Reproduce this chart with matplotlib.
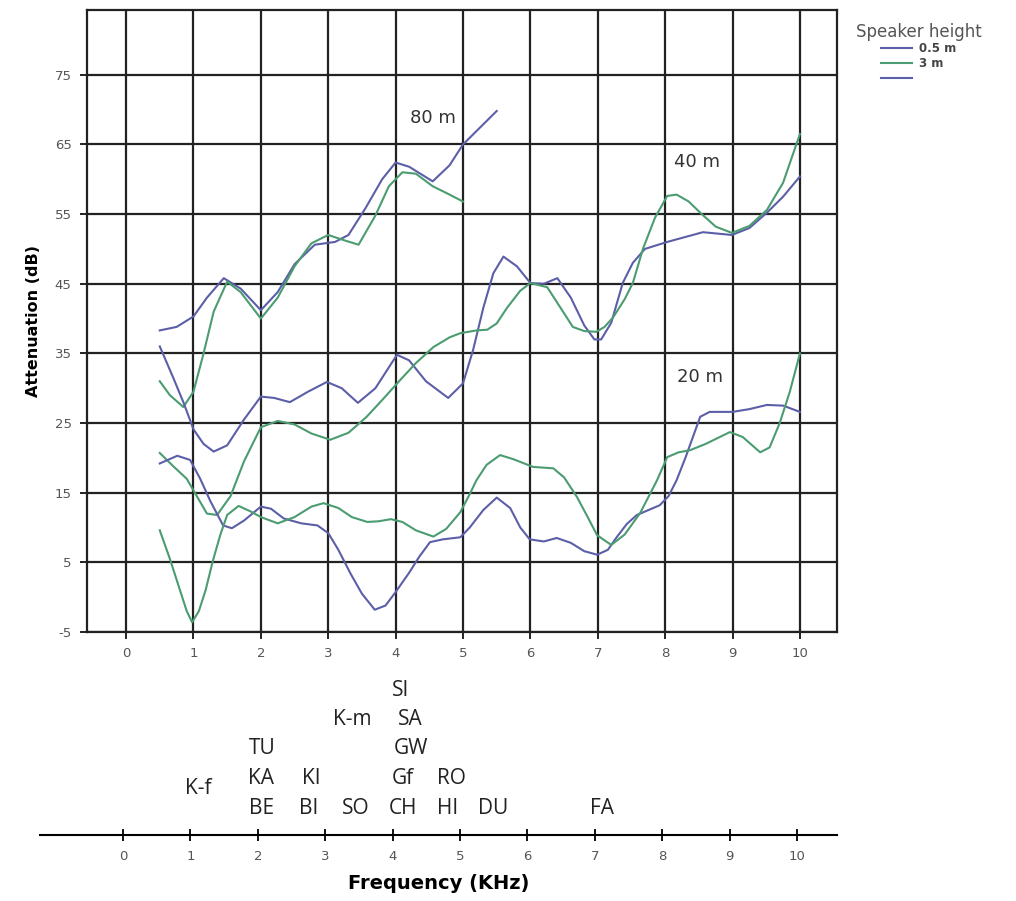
import matplotlib
matplotlib.use("Agg")
import matplotlib.pyplot as plt
from matplotlib.lines import Line2D

plt.rcParams["axes.unicode_minus"] = False

# frequency (kHz) / attenuation (dB)
blue_80_x = [0.5, 0.75, 1.0, 1.2, 1.45, 1.7, 2.0, 2.25, 2.5, 2.8, 3.1, 3.3, 3.55, 3.8, 4.0, 4.2, 4.55, 4.8, 5.0, 5.25, 5.5]
blue_80_y = [38.3, 38.8, 40.3, 43.0, 45.8, 44.3, 41.2, 43.8, 47.8, 50.6, 51.0, 52.0, 55.8, 60.0, 62.4, 61.8, 59.7, 62.0, 65.0, 67.4, 69.8]

green_80_x = [0.5, 0.65, 0.85, 1.0, 1.15, 1.3, 1.5, 1.7, 2.0, 2.25, 2.5, 2.75, 3.0, 3.25, 3.45, 3.7, 3.9, 4.1, 4.3, 4.55, 4.8, 5.0]
green_80_y = [31.0, 29.0, 27.3, 29.5, 35.0, 41.0, 45.3, 43.8, 40.0, 43.0, 47.5, 50.8, 52.0, 51.2, 50.6, 54.8, 59.0, 61.0, 60.8, 59.0, 57.8, 56.8]

blue_40_x = [0.5, 0.7, 0.85, 1.0, 1.15, 1.3, 1.5, 1.75, 2.0, 2.2, 2.43, 2.7, 2.98, 3.2, 3.44, 3.7, 4.02, 4.2,
             4.45, 4.78, 5.0, 5.15, 5.3, 5.45, 5.6, 5.8, 6.0, 6.2, 6.4, 6.6, 6.8, 6.95, 7.05, 7.2, 7.37, 7.52,
             7.7, 8.03, 8.56, 8.99, 9.25, 9.51, 9.75, 10.0]
blue_40_y = [36.0, 31.5, 28.0, 24.1, 22.0, 20.9, 21.8, 25.5, 28.8, 28.6, 28.0, 29.5, 30.9, 30.0, 27.9, 30.0, 34.8, 34.0,
             31.0, 28.6, 30.7, 35.5, 41.5, 46.5, 48.9, 47.5, 45.1, 45.0, 45.8, 43.0, 39.0, 37.0, 37.0, 39.4, 45.1, 48.0,
             50.0, 51.0, 52.4, 52.0, 53.0, 55.2, 57.5, 60.4]

green_40_x = [0.5, 0.7, 0.9, 1.05, 1.2, 1.35, 1.55, 1.75, 2.0, 2.25, 2.5, 2.75, 3.03, 3.3, 3.57, 3.8, 4.07, 4.3,
              4.56, 4.8, 4.96, 5.2, 5.36, 5.5, 5.65, 5.85, 6.0, 6.25, 6.45, 6.63, 6.8, 6.98, 7.1, 7.23, 7.4, 7.52,
              7.67, 7.85, 8.03, 8.17, 8.35, 8.52, 8.75, 8.99, 9.25, 9.51, 9.75, 10.0]
green_40_y = [20.7, 18.8, 17.0, 14.5, 12.0, 11.8, 14.5, 19.5, 24.4, 25.3, 24.8, 23.5, 22.6, 23.6, 25.9, 28.3, 31.2, 33.6,
              35.9, 37.3, 37.9, 38.3, 38.4, 39.3, 41.5, 44.0, 45.1, 44.5, 41.5, 38.8, 38.2, 38.1, 38.8, 40.2, 42.8, 45.1,
              50.0, 54.5, 57.6, 57.8, 56.8, 55.2, 53.2, 52.3, 53.3, 55.6, 59.5, 66.5]

blue_20_x = [0.5, 0.76, 0.95, 1.1, 1.25, 1.44, 1.57, 1.75, 2.0, 2.15, 2.34, 2.6, 2.84, 3.0, 3.15, 3.33, 3.5, 3.69,
             3.85, 3.99, 4.2, 4.35, 4.51, 4.7, 4.96, 5.1, 5.3, 5.5, 5.7, 5.85, 5.99, 6.2, 6.39, 6.6, 6.8, 6.99, 7.15,
             7.28, 7.43, 7.58, 7.75, 7.92, 8.05, 8.17, 8.3, 8.52, 8.66, 9.0, 9.25, 9.51, 9.75, 10.0]
blue_20_y = [19.2, 20.3, 19.7, 17.0, 13.8, 10.3, 9.9, 11.0, 13.0, 12.7, 11.3, 10.6, 10.3, 9.2, 6.8, 3.4, 0.5, -1.8,
             -1.2, 0.6, 3.5, 5.8, 7.9, 8.3, 8.6, 10.0, 12.5, 14.3, 12.8, 10.0, 8.3, 8.0, 8.5, 7.8, 6.6, 6.1, 6.8,
             8.6, 10.5, 11.8, 12.5, 13.2, 14.5, 16.8, 20.0, 25.9, 26.6, 26.6, 27.0, 27.6, 27.5, 26.6]

green_20_x = [0.5, 0.65, 0.8, 0.9, 0.98, 1.08, 1.18, 1.29, 1.4, 1.5, 1.67, 1.85, 2.0, 2.25, 2.5, 2.75, 2.93, 3.15,
              3.35, 3.58, 3.75, 3.93, 4.1, 4.3, 4.56, 4.75, 4.96, 5.1, 5.2, 5.35, 5.55, 5.75, 6.04, 6.34, 6.5, 6.69,
              6.85, 6.99, 7.2, 7.4, 7.63, 7.88, 8.03, 8.2, 8.37, 8.6, 8.96, 9.15, 9.41, 9.55, 9.7, 9.85, 10.0]
green_20_y = [9.6, 5.5, 1.0, -2.0, -3.6, -2.0, 1.0, 5.3, 9.0, 11.8, 13.1, 12.3, 11.5, 10.6, 11.5, 13.0, 13.5, 12.8,
              11.5, 10.8, 10.9, 11.2, 10.8, 9.6, 8.7, 9.8, 12.2, 14.8, 16.8, 19.0, 20.4, 19.8, 18.7, 18.5, 17.2, 14.4,
              11.5, 8.9, 7.5, 9.0, 12.1, 16.8, 20.1, 20.8, 21.1, 22.0, 23.7, 23.0, 20.8, 21.5, 25.0, 29.5, 35.0]

distance_labels = ["80 m", "40 m", "20 m"]
distance_label_x = [4.55, 8.47, 8.52]
distance_label_y = [68.8, 62.5, 31.6]

legend_labels = ["0.5 m", "3 m", ""]

# species codes and their song frequency (kHz), stacking level in the column
species = ["K-f", "BE", "KA", "TU", "BI", "KI", "SO", "K-m", "CH", "Gf", "GW", "SA", "SI", "HI", "RO", "DU", "FA"]
species_freq = [1.11, 2.05, 2.05, 2.06, 2.76, 2.79, 3.46, 3.40, 4.16, 4.15, 4.27, 4.26, 4.12, 4.81, 4.87, 5.49, 7.11]
species_level = [0.67, 0, 1, 2, 0, 1, 0, 3, 0, 1, 2, 3, 4, 0, 1, 0, 0]

blue = "#5c5fa8"
green = "#4b9c70"
tick_grey = "#555555"

fig = plt.figure(figsize=(10.16, 9.01), dpi=100)
W, H = 1016, 901

# main chart
ax = fig.add_axes([87 / W, 1 - 632 / H, (837 - 87) / W, (632 - 10) / H])
ax.set_xlim(-0.58, 10.55)
ax.set_ylim(-5, 84.3)
ax.set_xticks(range(0, 11))
ax.set_yticks([-5, 5, 15, 25, 35, 45, 55, 65, 75])
ax.grid(True, color="#222222", linewidth=1.6)
ax.set_axisbelow(True)
for s in ax.spines.values():
    s.set_linewidth(1.6)
    s.set_color("#222222")
ax.tick_params(direction="out", length=5, width=1.4, color="#222222",
               labelsize=9.5, labelcolor=tick_grey, pad=6)

lw = 1.5
ax.plot(blue_80_x, blue_80_y, color=blue, lw=lw)
ax.plot(green_80_x, green_80_y, color=green, lw=lw)
ax.plot(blue_40_x, blue_40_y, color=blue, lw=lw)
ax.plot(green_40_x, green_40_y, color=green, lw=lw)
ax.plot(blue_20_x, blue_20_y, color=blue, lw=lw)
ax.plot(green_20_x, green_20_y, color=green, lw=lw)

for lab, x, y in zip(distance_labels, distance_label_x, distance_label_y):
    ax.text(x, y, lab, ha="center", va="center", fontsize=13, color="#333333",
            bbox=dict(facecolor="white", edgecolor="none", pad=1))

ax.set_ylabel("Attenuation (dB)", fontsize=11.5, fontweight="bold", labelpad=10)

# legend
handles = [Line2D([], [], color=blue, lw=1.5), Line2D([], [], color=green, lw=1.5),
           Line2D([], [], color=blue, lw=1.5)]
leg = fig.legend(handles, legend_labels, title="Speaker height", loc="upper left",
                 bbox_to_anchor=(845 / W, 1 - 12 / H), frameon=False, fontsize=8.5,
                 title_fontsize=12, handlelength=2.6, labelspacing=0.15, handletextpad=0.6)
leg.get_title().set_color(tick_grey)
for t in leg.get_texts():
    t.set_color("#444444")
    t.set_fontweight("bold")

# bottom frequency axis with species codes
ax2 = fig.add_axes([40 / W, 1 - 835 / H, (837 - 40) / W, 170 / H])
ax2.set_xlim((40 - 123) / 67.4, (837 - 123) / 67.4)
ax2.set_ylim(0, 170)
for side in ["left", "right", "top"]:
    ax2.spines[side].set_visible(False)
ax2.spines["bottom"].set_linewidth(1.5)
ax2.set_xticks(range(0, 11))
ax2.set_yticks([])
ax2.tick_params(axis="x", direction="inout", length=8, width=1.3,
                labelsize=9.5, labelcolor=tick_grey, pad=7)
ax2.patch.set_visible(False)

for code, f, lev in zip(species, species_freq, species_level):
    ax2.text(f, 27 + lev * 29.5, code, ha="center", va="center", fontsize=15,
             family=["Open Sans", "DejaVu Sans"], color="#222222")

ax2.set_xlabel("Frequency (KHz)", fontsize=14, fontweight="bold", labelpad=8)

fig.savefig("out.png", dpi=100)
